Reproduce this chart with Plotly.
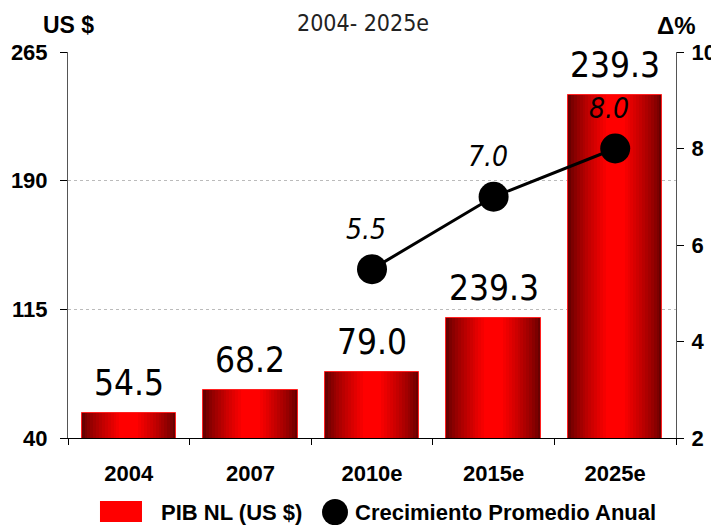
"""PIB NL 2004-2025e: bars with gradient plus average growth line."""

import plotly.graph_objects as go

# data
years = ["2004", "2007", "2010e", "2015e", "2025e"]
pib = [54.5, 68.2, 78.6, 110.0, 239.9]
pib_labels = ["54.5", "68.2", "79.0", "239.3", "239.3"]

growth_years = ["2010e", "2015e", "2025e"]
growth = [5.5, 7.0, 8.0]
growth_labels = ["5.5", "7.0", "8.0"]

NARROW = "Liberation Sans Narrow, Arial Narrow, DejaVu Sans Condensed, Roboto Condensed, Roboto, sans-serif"
BOLD = "Liberation Sans, Arial, sans-serif"


def _mix(c1, c2, t):
    return "#%02x%02x%02x" % tuple(int(a + (b - a) * t) for a, b in zip(c1, c2))


fig = go.Figure()

# fake a horizontal gradient: stack narrower, brighter bars on top
n_layers = 14
full_w = 0.775
dark, bright = (105, 0, 0), (255, 0, 0)
for i in range(n_layers):
    t = i / (n_layers - 1)
    fig.add_trace(
        go.Bar(
            x=years,
            y=pib,
            width=full_w * (1 - t * 0.8),
            marker=dict(
                color=_mix(dark, bright, t ** 0.8),
                line=dict(width=1 if i == 0 else 0, color="#ff2020"),
            ),
            base=0,
            showlegend=False,
            hoverinfo="skip" if i else "y",
        )
    )

fig.add_trace(
    go.Scatter(
        x=growth_years,
        y=growth,
        yaxis="y2",
        mode="lines+markers",
        line=dict(color="black", width=3),
        marker=dict(color="black", size=30),
        showlegend=False,
    )
)

annotations = []
for i, (y, lab) in enumerate(zip(pib, pib_labels)):
    annotations.append(
        dict(
            x=i, y=y, text=lab, showarrow=False, yanchor="bottom", yshift=8,
            font=dict(family=NARROW, size=35, color="black"),
        )
    )
for x, y, lab in zip(growth_years, growth, growth_labels):
    annotations.append(
        dict(
            x=years.index(x), y=y, yref="y2", text=f"<i>{lab}</i>",
            showarrow=False, yanchor="middle", yshift=40, xshift=-6,
            font=dict(family=NARROW, size=28, color="black"),
        )
    )

annotations += [
    dict(x=0.5, y=1.0, xref="paper", yref="paper", xanchor="center",
         yanchor="top", yshift=44, xshift=-9, showarrow=False,
         text="2004- 2025e",
         font=dict(family=NARROW, size=23, color="#222")),
    dict(x=0.0, y=1.0, xref="paper", yref="paper", xanchor="center",
         yanchor="middle", yshift=27, xshift=0, showarrow=False,
         text="US $", font=dict(family=BOLD, size=23, color="black", weight="bold")),
    dict(x=1.0, y=1.0, xref="paper", yref="paper", xanchor="center",
         yanchor="middle", yshift=27, xshift=0, showarrow=False,
         text="Δ%", font=dict(family=BOLD, size=24, color="black", weight="bold")),
    dict(x=0.1497, y=-0.192, xref="paper", yref="paper", xanchor="left",
         yanchor="middle", showarrow=False, text="PIB NL (US $)",
         font=dict(family=BOLD, size=22, color="black", weight="bold")),
    dict(x=0.4688, y=-0.192, xref="paper", yref="paper", xanchor="left",
         yanchor="middle", showarrow=False, text="Crecimiento Promedio Anual",
         font=dict(family=BOLD, size=22, color="black", weight="bold")),
]

# manual legend swatches
shapes = [
    dict(type="rect", xref="paper", yref="paper", x0=0.0526, x1=0.1217,
         y0=-0.2176, y1=-0.163, fillcolor="#ff0000", line=dict(width=0)),
    dict(type="circle", xref="paper", yref="paper", x0=0.4178, x1=0.4605,
         y0=-0.226, y1=-0.158, fillcolor="black", line=dict(width=0)),
]

tick_font = dict(family=BOLD, size=22, color="black", weight="bold")

# the page body adds an 8px offset, so the figure is sized 8px smaller
fig.update_layout(
    width=711,
    height=517,
    barmode="overlay",
    bargap=0,
    plot_bgcolor="white",
    paper_bgcolor="white",
    margin=dict(l=60, r=43, t=44, b=87),
    showlegend=False,
    annotations=annotations,
    shapes=shapes,
    xaxis=dict(
        type="category",
        tickson="boundaries",
        ticks="outside",
        ticklen=6,
        tickcolor="black",
        showline=True,
        linecolor="black",
        linewidth=1,
        tickfont=tick_font,
        ticklabelstandoff=16,
        range=[-0.5, 4.5],
        automargin=False,
    ),
    yaxis=dict(
        range=[40, 265],
        tickvals=[40, 115, 190, 265],
        ticks="outside",
        ticklen=7,
        tickcolor="black",
        showline=True,
        linecolor="#555",
        showgrid=True,
        gridcolor="#bbbbbb",
        griddash="dot",
        zeroline=False,
        tickfont=tick_font,
        ticklabelstandoff=8,
        automargin=False,
    ),
    yaxis2=dict(
        overlaying="y",
        side="right",
        range=[2, 10],
        tickvals=[2, 4, 6, 8, 10],
        ticks="outside",
        ticklen=7,
        tickcolor="black",
        showline=True,
        linecolor="#555",
        showgrid=False,
        zeroline=False,
        tickfont=tick_font,
        ticklabelstandoff=3,
        automargin=False,
    ),
)

fig.write_html("out.html")
